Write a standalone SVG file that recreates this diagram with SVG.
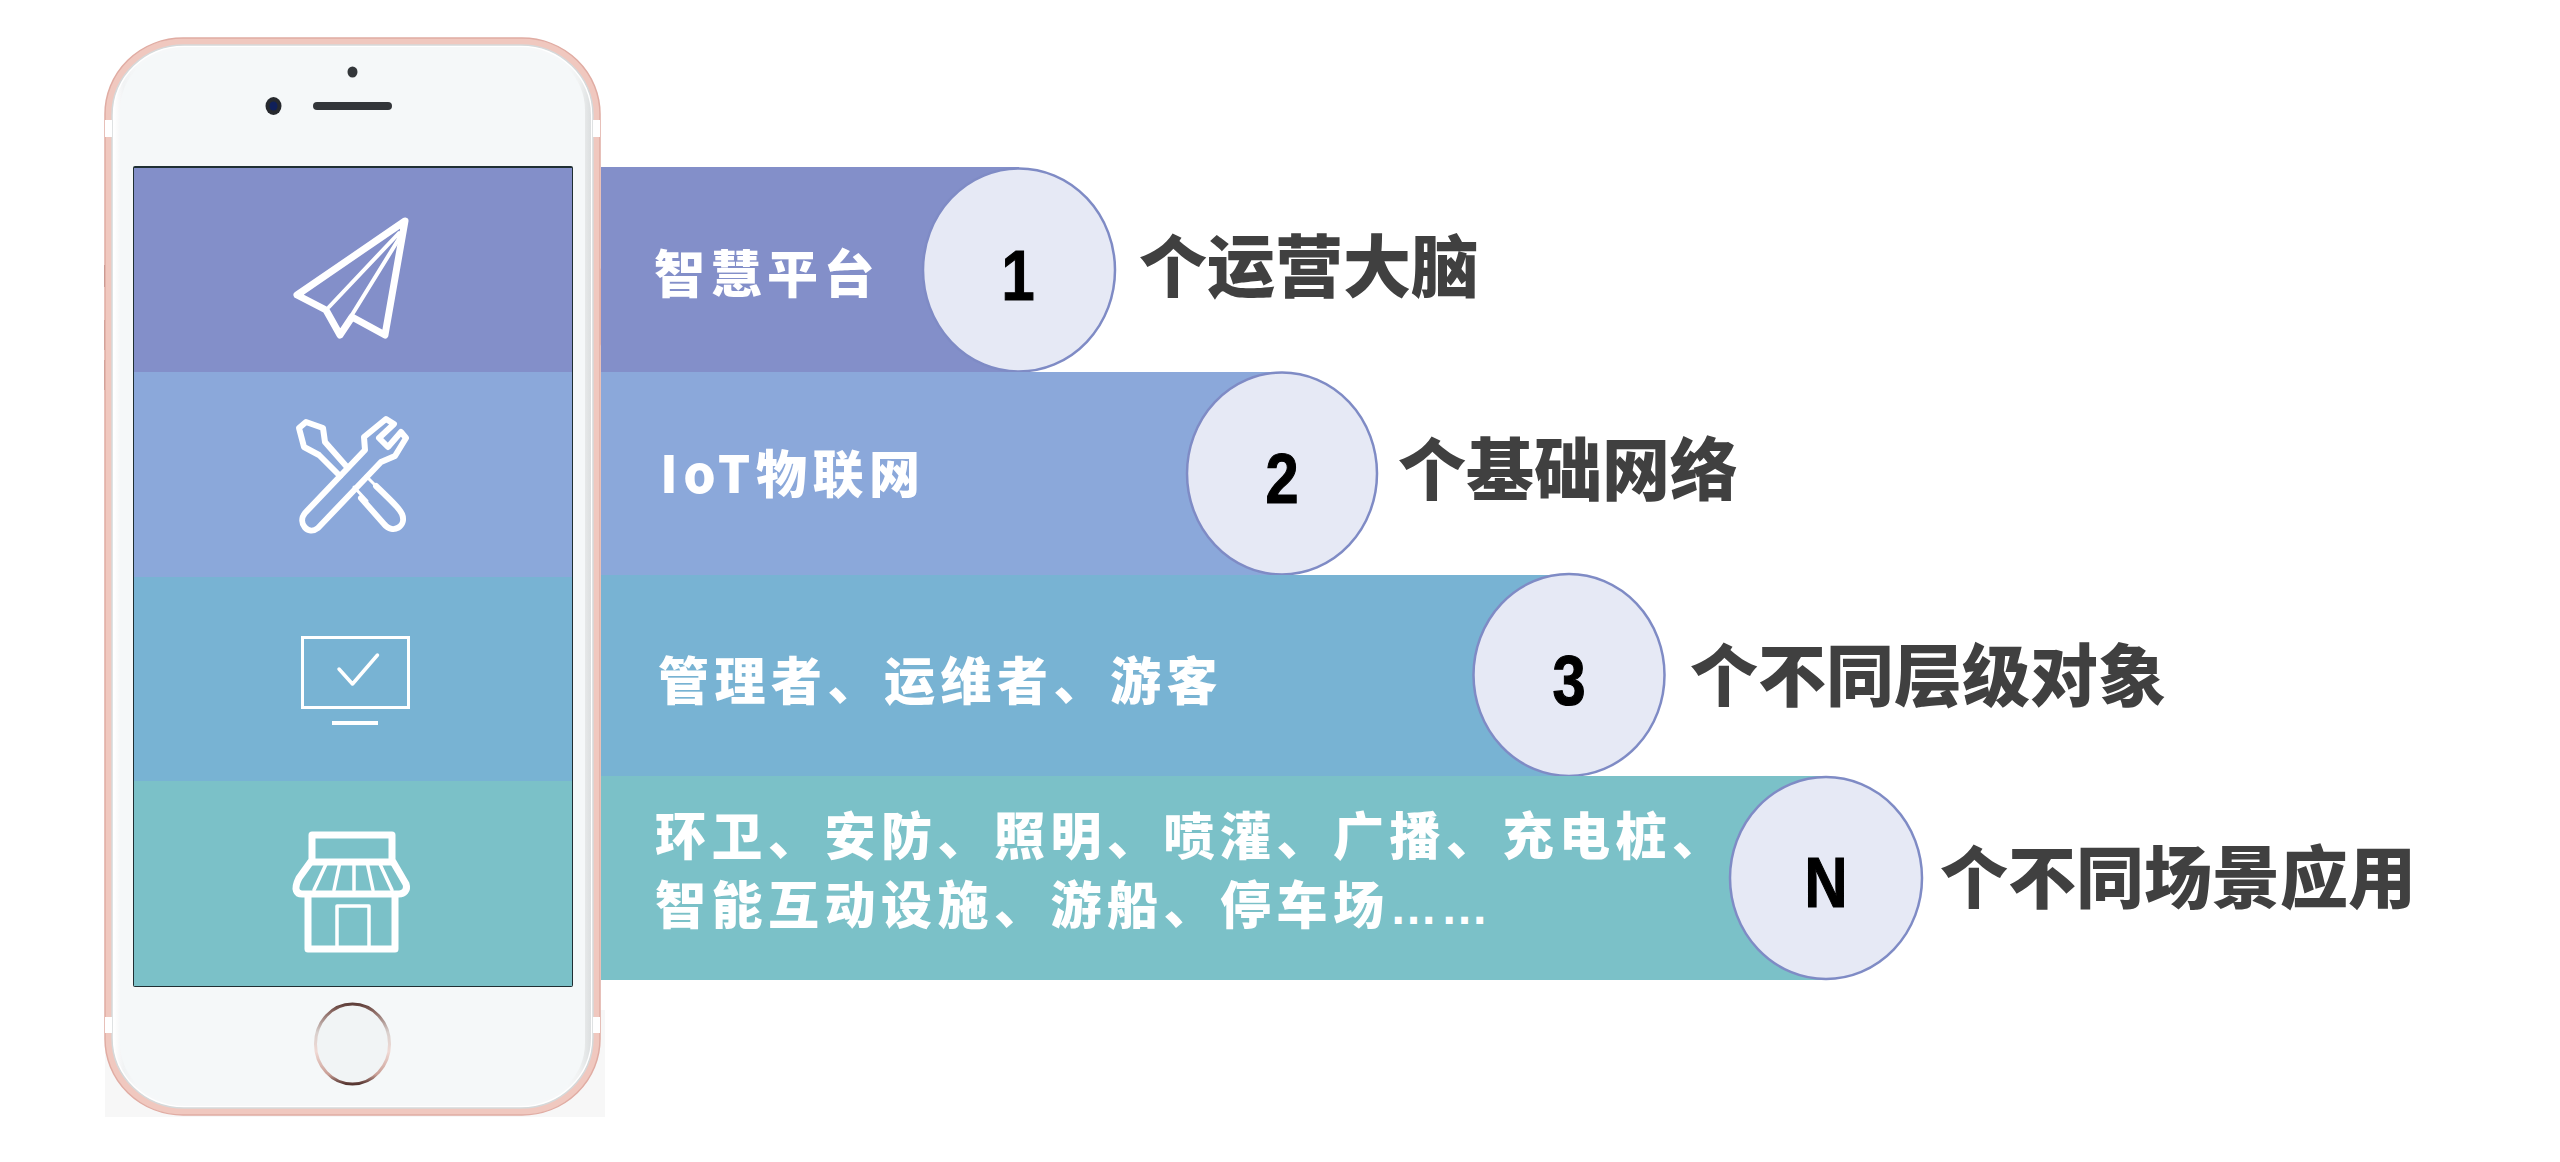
<svg xmlns="http://www.w3.org/2000/svg" width="2560" height="1162" viewBox="0 0 2560 1162">
<defs>
<style>
text{font-family:"Noto Sans CJK SC","Liberation Sans",sans-serif}
.title{font-size:68px;font-weight:900;fill:#404040}
.label{font-size:51px;font-weight:900;fill:#fff;letter-spacing:5.500px}
.num{font-family:"Liberation Sans",sans-serif;font-size:70px;font-weight:700;fill:#000;stroke:#000;stroke-width:1.200;text-anchor:middle}
.dots{font-family:"Liberation Sans",sans-serif;font-size:48px;font-weight:700;letter-spacing:3px}
.disc{fill:#e6e9f5;stroke:#7f8bc5;stroke-width:2.5}
.ic{fill:none;stroke:#fff;stroke-linejoin:round;stroke-linecap:round}
</style>
<linearGradient id="ring" x1="0" y1="0" x2="0" y2="1">
<stop offset="0" stop-color="#5f3f3a"/><stop offset=".1" stop-color="#8c6a64"/><stop offset=".35" stop-color="#d8cfcc"/><stop offset=".6" stop-color="#f0d9d4"/><stop offset=".88" stop-color="#c99f96"/><stop offset="1" stop-color="#553530"/>
</linearGradient>
<linearGradient id="bezel" x1="0" y1="0" x2="1" y2="0">
<stop offset="0" stop-color="#fff"/><stop offset=".02" stop-color="#f1f3f4"/><stop offset=".05" stop-color="#f6f8f9"/><stop offset=".95" stop-color="#f6f8f9"/><stop offset=".975" stop-color="#f0f2f2"/><stop offset="1" stop-color="#dcdfe0"/>
</linearGradient>
</defs>
<rect width="2560" height="1162" fill="#fff"/>
<g id="phone">
<rect x="105" y="1010" width="500" height="107" fill="#f7f7f7"/>
<rect x="600" y="268" width="4" height="78" rx="2" fill="#e9c3ba"/>
<rect x="104" y="265" width="2" height="22" fill="#8d6a68"/>
<rect x="104" y="320" width="2" height="30" fill="#a98884"/>
<rect x="104" y="360" width="2" height="30" fill="#a98884"/>
<rect x="105" y="38" width="495" height="1077" rx="78" ry="76" fill="#f0c8bf" stroke="#e0aca3" stroke-width="1.500"/>
<rect x="112" y="45" width="481" height="1063" rx="72" ry="70" fill="#fff" stroke="#d5d9da" stroke-width="1.500"/>
<rect x="114" y="47" width="477" height="1059" rx="70" ry="68" fill="url(#bezel)"/>
<rect x="120" y="50" width="465" height="1053" rx="62" ry="60" fill="#f5f8f9"/>
<rect x="105" y="120" width="7" height="17" fill="#fff"/>
<rect x="593" y="120" width="7" height="17" fill="#fff"/>
<rect x="105" y="1017" width="7" height="16" fill="#fff"/>
<rect x="593" y="1017" width="7" height="16" fill="#fff"/>
<rect x="133" y="166" width="440" height="821" rx="2" fill="#1f2f33"/>
<rect x="134" y="168" width="438" height="204" fill="#838fc9"/>
<rect x="134" y="372" width="438" height="205" fill="#8ba8da"/>
<rect x="134" y="577" width="438" height="204" fill="#78b3d3"/>
<rect x="134" y="781" width="438" height="205" fill="#7bc1c8"/>
<ellipse cx="352.500" cy="72" rx="5" ry="5.500" fill="#33373a"/>
<ellipse cx="273.500" cy="106" rx="8" ry="9" fill="#26292e"/>
<ellipse cx="273.500" cy="106" rx="4" ry="4.500" fill="#10205a"/>
<rect x="313" y="102" width="79" height="8" rx="4" fill="#33363a"/>
<ellipse cx="352.500" cy="1044" rx="37" ry="40" fill="#f1f4f5" stroke="url(#ring)" stroke-width="3"/>
</g>
<g id="band-1">
<path d="M601 167H1019V372H601Z" fill="#838fc9"/>
<ellipse class="disc" cx="1019" cy="270" rx="96" ry="101.500"/>
<text class="num" transform="translate(1018 300) scale(.85 1)">1</text>
<text class="label" x="654" y="293">智慧平台</text>
<text class="title" x="1139" y="292">个运营大脑</text>
<path class="ic" stroke-width="7" d="M405 221 297 295 326 310 340 335 352 317 385 335Z"/>
<path class="ic" stroke-width="4" d="M399 233 329 307M400 237 350 318"/>
</g>
<g id="band-2">
<path d="M601 372H1282V575H601Z" fill="#8ba8da"/>
<ellipse class="disc" cx="1282" cy="473.500" rx="95" ry="101"/>
<text class="num" transform="translate(1282 503) scale(.85 1)">2</text>
<text class="label" x="660" y="493" letter-spacing="3">IoT物联网</text>
<text class="title" x="1398" y="495">个基础网络</text>
<path class="ic" stroke-width="6" d="M347 467 325 442 323 428 306 422 299 428 304 447 319 455 340 476"/>
<path class="ic" stroke-width="6" d="M361 498 384 524C393 535 407 526 402 514 400 510 399 508 376 486"/>
<path class="ic" stroke-width="6" d="M305 513 365 450 364 437 386 419 394 424 379 438 388 447 401 432 406 438 395 456 381 462 318 528C308 536 297 523 305 513Z"/>
<path class="ic" stroke-width="3" d="M354 487 367 501M366 476 378 488"/>
</g>
<g id="band-3">
<path d="M601 575H1569V776H601Z" fill="#78b3d3"/>
<ellipse class="disc" cx="1569" cy="675" rx="95.500" ry="101"/>
<text class="num" transform="translate(1569 705) scale(.85 1)">3</text>
<text class="label" x="658" y="700">管理者、运维者、游客</text>
<text class="title" x="1690" y="701">个不同层级对象</text>
<path d="M301 636H410V709H301Z M304 639V706H407V639Z" fill="#fff" fill-rule="evenodd"/>
<path class="ic" stroke-width="3.500" stroke-linecap="butt" d="M339 669 352.500 684 377.500 655"/>
<rect x="332" y="721" width="46" height="4" fill="#fff"/>
</g>
<g id="band-4">
<path d="M601 776H1826V980H601Z" fill="#7bc1c8"/>
<ellipse class="disc" cx="1826" cy="878" rx="96" ry="101"/>
<text class="num" transform="translate(1826 907) scale(.85 1)">N</text>
<text class="label" x="655" y="855">环卫、安防、照明、喷灌、广播、充电桩、</text>
<text class="label" x="655" y="924">智能互动设施、游船、停车场<tspan class="dots">……</tspan></text>
<text class="title" x="1940" y="903">个不同场景应用</text>
<g transform="translate(1 2)">
<path class="ic" stroke-width="7" d="M311 858V833H391V858L405 882C407 888 403 892 398 892H301C296 892 292 888 298 876Z"/>
<path class="ic" stroke-width="7" d="M311 860H391"/>
<path class="ic" stroke-width="7" d="M307 893V947H394V893"/>
<path class="ic" stroke-width="3.500" d="M326 860 313 888M339 860 333 888M353 860V888M366 860 372 888M378 860 391 888M336 945V904H368V945"/>
</g>
</g>
</svg>
